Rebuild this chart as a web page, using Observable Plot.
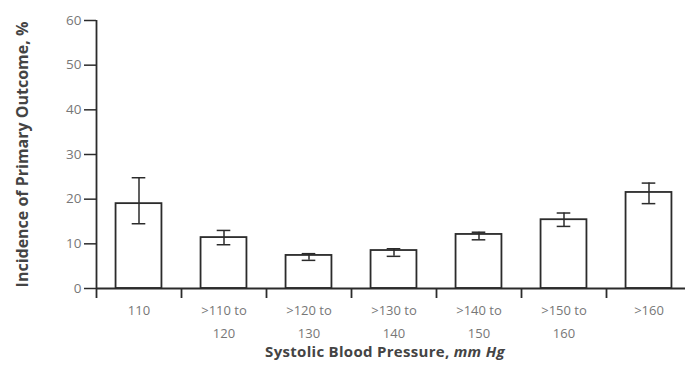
<!DOCTYPE html>
<html>
<head>
<meta charset="utf-8">
<script src="https://cdn.jsdelivr.net/npm/d3@7"></script>
<script src="https://cdn.jsdelivr.net/npm/@observablehq/plot@0.6"></script>
<style>
  html, body { margin: 0; padding: 0; background: #fff; overflow: hidden; }
  #chart svg { display: block; }
</style>
</head>
<body>
<div id="chart"></div>
<script>
const categories = ["110", ">110 to\n120", ">120 to\n130", ">130 to\n140", ">140 to\n150", ">150 to\n160", ">160"];
const incidence = [19.0, 11.4, 7.4, 8.5, 12.1, 15.4, 21.5];
const ciLow = [14.5, 9.8, 6.3, 7.2, 10.9, 13.9, 19.0];
const ciHigh = [24.8, 13.0, 7.8, 8.9, 12.6, 16.9, 23.6];
const yTicks = [0, 10, 20, 30, 40, 50, 60];
const yTitle = "Incidence of Primary Outcome, %";
const xTitle = "Systolic Blood Pressure, ";
const xTitleUnit = "mm Hg";

const data = categories.map((c, i) => ({c, i, v: incidence[i], lo: ciLow[i], hi: ciHigh[i]}));
const ink = "#2b2b2b";

const chart = Plot.plot({
  width: 685,
  height: 380,
  marginLeft: 96,
  marginRight: -6,
  marginTop: 20,
  marginBottom: 92,
  style: {fontFamily: "'Open Sans', sans-serif", background: "#fff", overflow: "visible"},
  x: {type: "linear", domain: [0, categories.length], axis: null},
  y: {domain: [0, 60], axis: null},
  marks: [
    Plot.rectY(data, {x1: d => d.i + 0.23, x2: d => d.i + 0.77, y1: 0, y2: "v", fill: "white", stroke: ink, strokeWidth: 1.8}),
    Plot.ruleX(data, {x: d => d.i + 0.5, y1: "lo", y2: "hi", stroke: ink, strokeWidth: 1.5}),
    Plot.ruleY(data, {x1: d => d.i + 0.42, x2: d => d.i + 0.58, y: "hi", stroke: ink, strokeWidth: 1.5}),
    Plot.ruleY(data, {x1: d => d.i + 0.42, x2: d => d.i + 0.58, y: "lo", stroke: ink, strokeWidth: 1.5}),
    Plot.ruleY([0], {x1: 0, x2: categories.length, stroke: ink, strokeWidth: 1.8}),
    Plot.ruleX([0], {y1: 0, y2: 60, stroke: ink, strokeWidth: 1.8}),
    Plot.axisX({ticks: d3.range(categories.length + 1), tickFormat: () => "", tickSize: 10, stroke: ink, strokeWidth: 1.8, label: null}),
    Plot.axisY({ticks: yTicks, tickSize: 12, tickPadding: 3, fontSize: 13.5, stroke: ink, strokeWidth: 1.5, fill: "#777", label: null}),
    Plot.text(data, {x: d => d.i + 0.5, y: 0, text: "c", dy: 11, lineAnchor: "top", lineHeight: 1.72, fontSize: 13, fill: "#777", textAnchor: "middle"}),
    Plot.text([yTitle], {frameAnchor: "left", textAnchor: "middle", lineAnchor: "middle", rotate: -90, dx: -74, fontSize: 16, fontWeight: "bold", fill: "#444"}),
    Plot.text([xTitle], {frameAnchor: "bottom", textAnchor: "middle", lineAnchor: "middle", dx: -9, dy: 64, fontSize: 15, fontWeight: "bold", fill: "#444"})
  ]
});

d3.select(chart).selectAll("text").filter(function() { return this.textContent === xTitle; }).each(function() {
  d3.select(this).attr("letter-spacing", "0.3px").append("tspan").attr("font-style", "italic").text(xTitleUnit);
});

document.getElementById("chart").appendChild(chart);
</script>
</body>
</html>
